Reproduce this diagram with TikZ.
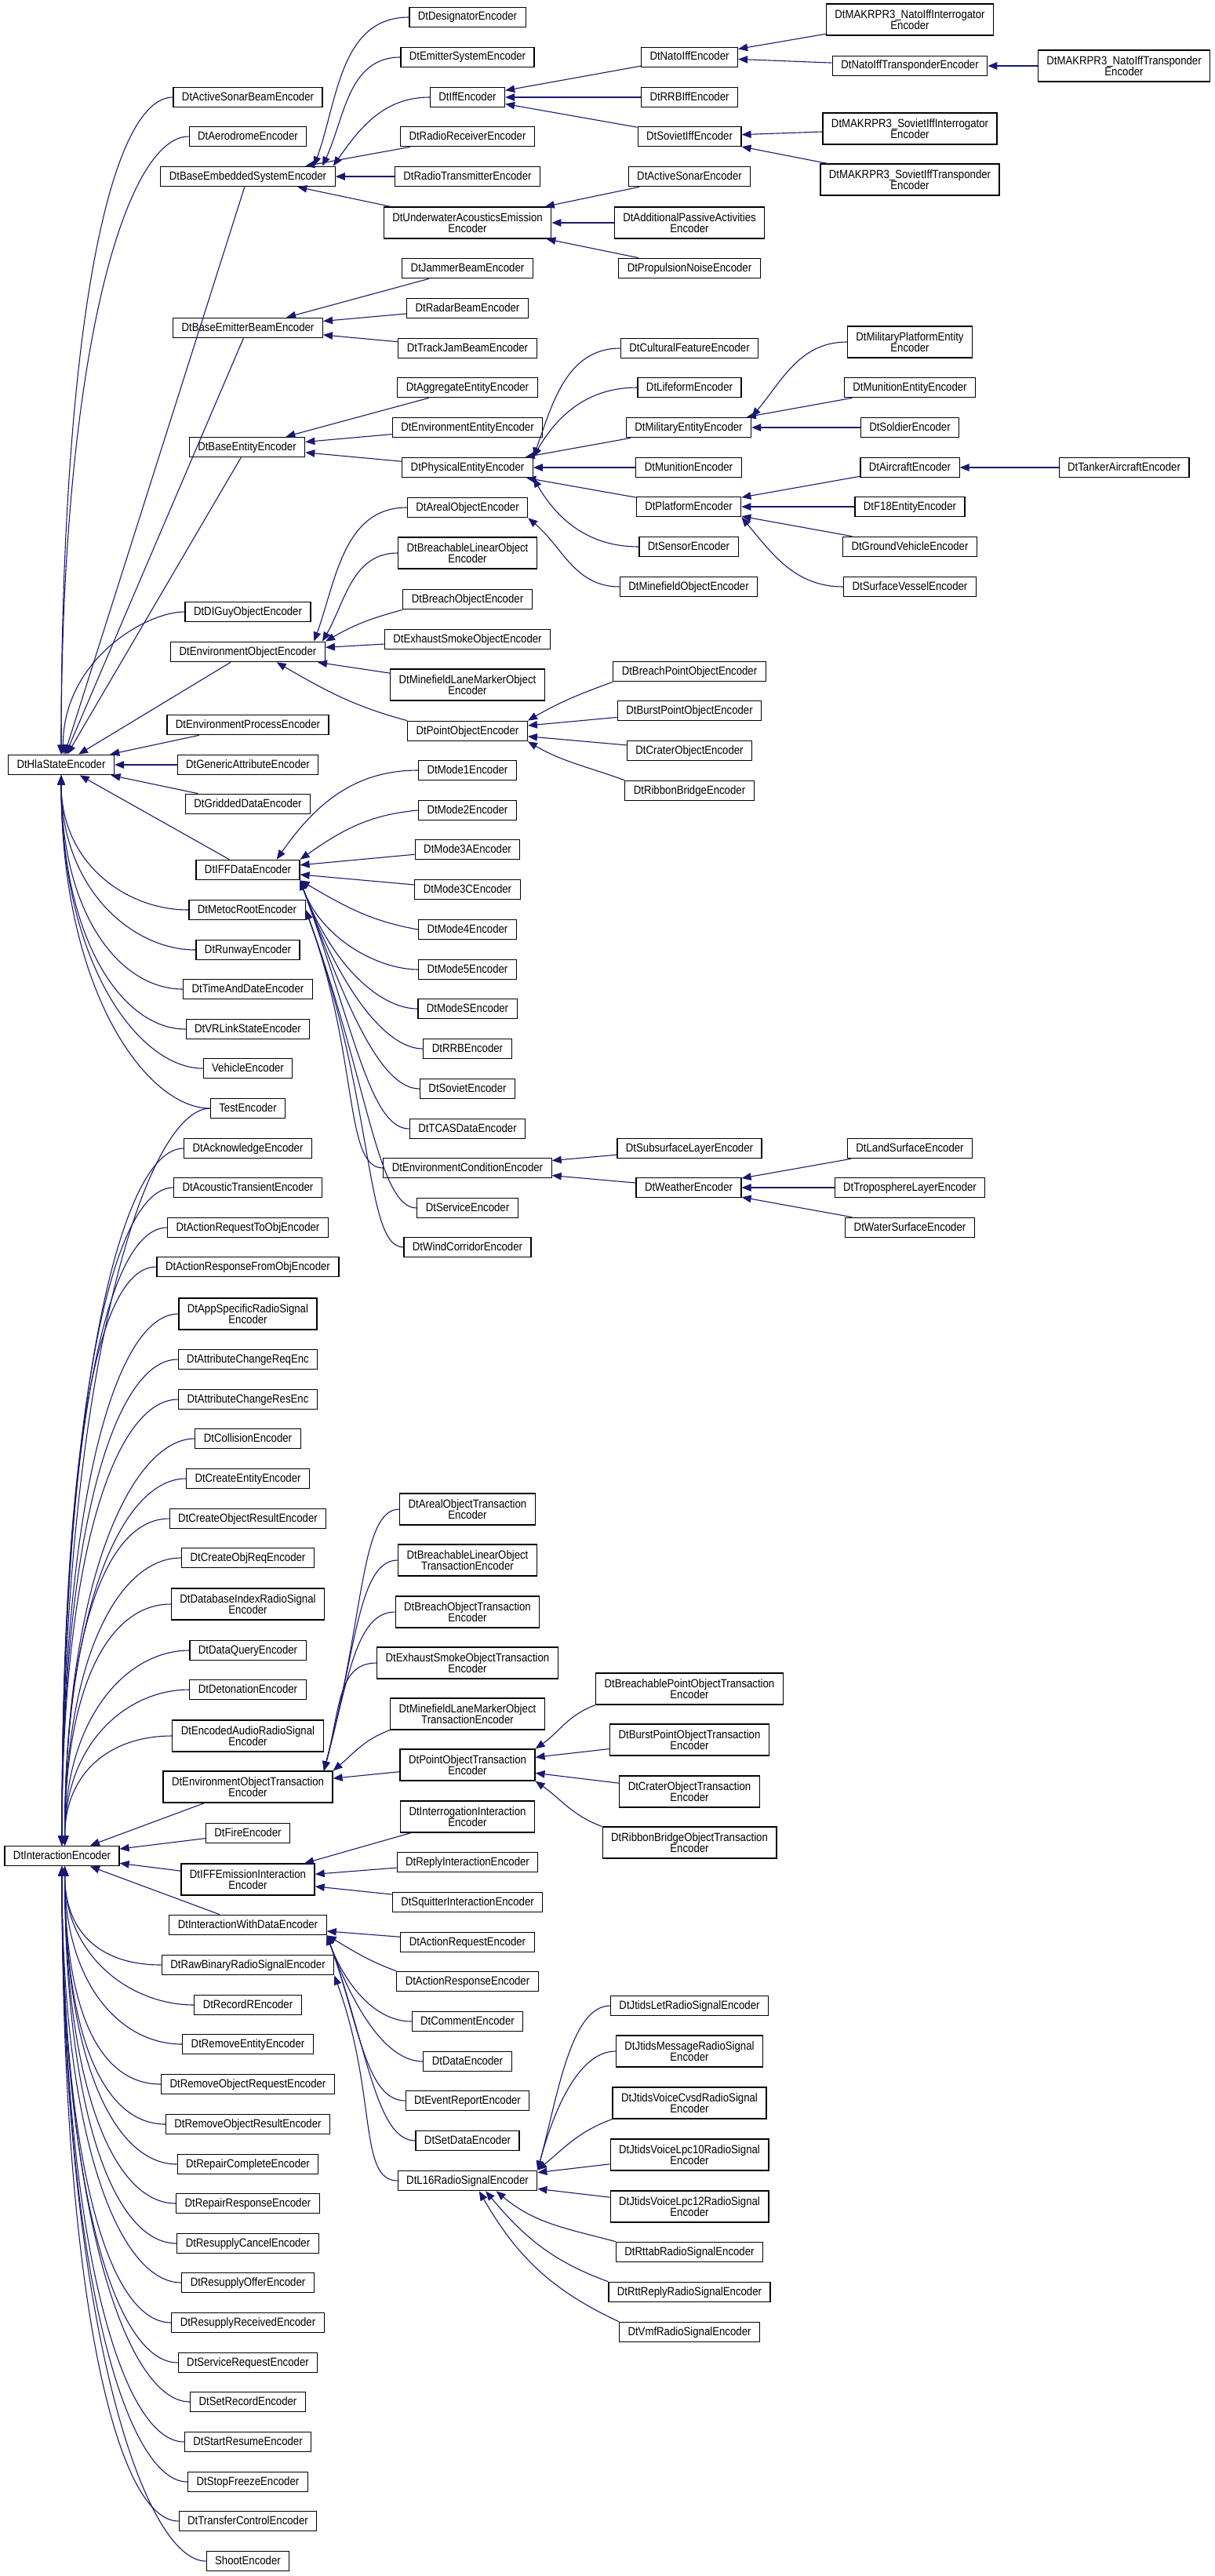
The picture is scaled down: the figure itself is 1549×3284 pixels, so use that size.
\documentclass[tikz,border=0pt]{standalone}
\usepackage{fontspec}
\setmainfont{Liberation Sans}[FakeStretch=0.88]
\usetikzlibrary{arrows.meta}
\definecolor{edgeblue}{RGB}{25,25,112}

\begin{document}
\begin{tikzpicture}[x=1pt,y=1pt,
  cls/.style={draw=black,line width=1.2pt,fill=white,inner xsep=11pt,inner ysep=0pt,
    minimum height=25.5pt,text height=11pt,text depth=3pt,font=\fontsize{15pt}{14.6pt}\selectfont},
  cls2/.style={draw=black,line width=1.2pt,fill=white,inner xsep=11pt,inner ysep=3pt,
    minimum height=40pt,align=center,font=\fontsize{15pt}{14.6pt}\selectfont},
  inh/.style={draw=edgeblue,line width=1.1pt,-{Triangle[length=12pt,width=9.5pt]}},
  fanup/.style={out=180,in=90,out distance=80pt,in distance=#1},
  fandn/.style={out=180,in=-90,out distance=80pt,in distance=#1},
  ufan/.style={out=180,in=75,out distance=50pt,in distance=#1},
  rfan/.style={out=180,in=-70,out distance=50pt,in distance=#1}]
\useasboundingbox (0,0) rectangle (1549,-3284);
% Two roots
\node[cls] (hla) at (78,-975) {DtHlaStateEncoder};
\node[cls] (inter) at (79,-2366) {DtInteractionEncoder};
% First level, state side
\node[cls] (asb) at (316,-124) {DtActiveSonarBeamEncoder};
\node[cls] (aer) at (316,-174) {DtAerodromeEncoder};
\node[cls] (bes) at (316,-225) {DtBaseEmbeddedSystemEncoder};
\node[cls] (bemb) at (316,-418) {DtBaseEmitterBeamEncoder};
\node[cls] (bent) at (315,-570) {DtBaseEntityEncoder};
\node[cls] (digo) at (316,-780) {DtDIGuyObjectEncoder};
\node[cls] (envo) at (316,-831) {DtEnvironmentObjectEncoder};
\node[cls] (envp) at (316,-924) {DtEnvironmentProcessEncoder};
\node[cls] (gena) at (316,-975) {DtGenericAttributeEncoder};
\node[cls] (grid) at (316,-1025) {DtGriddedDataEncoder};
\node[cls] (iffd) at (316,-1109) {DtIFFDataEncoder};
\node[cls] (meto) at (315,-1160) {DtMetocRootEncoder};
\node[cls] (runw) at (316,-1211) {DtRunwayEncoder};
\node[cls] (tad) at (316,-1261) {DtTimeAndDateEncoder};
\node[cls] (vrl) at (316,-1312) {DtVRLinkStateEncoder};
\node[cls] (veh) at (316,-1362) {VehicleEncoder};
\node[cls] (test) at (316,-1413) {TestEncoder};
% First level, interaction side
\node[cls] (ack) at (316,-1464) {DtAcknowledgeEncoder};
\node[cls] (act) at (316,-1514) {DtAcousticTransientEncoder};
\node[cls] (arto) at (316,-1565) {DtActionRequestToObjEncoder};
\node[cls] (arfo) at (316,-1615) {DtActionResponseFromObjEncoder};
\node[cls2] (apps) at (316,-1675) {DtAppSpecificRadioSignal\\Encoder};
\node[cls] (acrq) at (316,-1733) {DtAttributeChangeReqEnc};
\node[cls] (acrs) at (316,-1784) {DtAttributeChangeResEnc};
\node[cls] (coll) at (316,-1834) {DtCollisionEncoder};
\node[cls] (cent) at (316,-1885) {DtCreateEntityEncoder};
\node[cls] (cobr) at (316,-1936) {DtCreateObjectResultEncoder};
\node[cls] (cobq) at (316,-1986) {DtCreateObjReqEncoder};
\node[cls2] (dbix) at (316,-2045) {DtDatabaseIndexRadioSignal\\Encoder};
\node[cls] (dq) at (316,-2104) {DtDataQueryEncoder};
\node[cls] (det) at (316,-2154) {DtDetonationEncoder};
\node[cls2] (enca) at (316,-2213) {DtEncodedAudioRadioSignal\\Encoder};
\node[cls2] (eot) at (316,-2278) {DtEnvironmentObjectTransaction\\Encoder};
\node[cls] (fire) at (316,-2337) {DtFireEncoder};
\node[cls2] (iffe) at (316,-2396) {DtIFFEmissionInteraction\\Encoder};
\node[cls] (iwd) at (316,-2454) {DtInteractionWithDataEncoder};
\node[cls] (rawb) at (316,-2505) {DtRawBinaryRadioSignalEncoder};
\node[cls] (recr) at (316,-2556) {DtRecordREncoder};
\node[cls] (rment) at (316,-2606) {DtRemoveEntityEncoder};
\node[cls] (rmorq) at (316,-2657) {DtRemoveObjectRequestEncoder};
\node[cls] (rmors) at (316,-2708) {DtRemoveObjectResultEncoder};
\node[cls] (repc) at (316,-2759) {DtRepairCompleteEncoder};
\node[cls] (repr) at (316,-2809) {DtRepairResponseEncoder};
\node[cls] (resc) at (316,-2860) {DtResupplyCancelEncoder};
\node[cls] (reso) at (316,-2910) {DtResupplyOfferEncoder};
\node[cls] (resr) at (316,-2961) {DtResupplyReceivedEncoder};
\node[cls] (sreq) at (316,-3012) {DtServiceRequestEncoder};
\node[cls] (srec) at (316,-3062) {DtSetRecordEncoder};
\node[cls] (star) at (316,-3113) {DtStartResumeEncoder};
\node[cls] (stop) at (316,-3164) {DtStopFreezeEncoder};
\node[cls] (trc) at (316,-3214) {DtTransferControlEncoder};
\node[cls] (shoot) at (316,-3265) {ShootEncoder};
% Second level
\node[cls] (des) at (596,-22) {DtDesignatorEncoder};
\node[cls] (emit) at (596,-73) {DtEmitterSystemEncoder};
\node[cls] (iff) at (596,-124) {DtIffEncoder};
\node[cls] (rrcv) at (596,-174) {DtRadioReceiverEncoder};
\node[cls] (rtx) at (596,-225) {DtRadioTransmitterEncoder};
\node[cls2] (uae) at (596,-284) {DtUnderwaterAcousticsEmission\\Encoder};
\node[cls] (jam) at (596,-342) {DtJammerBeamEncoder};
\node[cls] (radar) at (596,-393) {DtRadarBeamEncoder};
\node[cls] (tjam) at (596,-444) {DtTrackJamBeamEncoder};
\node[cls] (aggr) at (596,-494) {DtAggregateEntityEncoder};
\node[cls] (enve) at (596,-545) {DtEnvironmentEntityEncoder};
\node[cls] (phys) at (596,-596) {DtPhysicalEntityEncoder};
\node[cls] (areal) at (596,-647) {DtArealObjectEncoder};
\node[cls2] (blin) at (596,-705) {DtBreachableLinearObject\\Encoder};
\node[cls] (brch) at (596,-764) {DtBreachObjectEncoder};
\node[cls] (exh) at (596,-815) {DtExhaustSmokeObjectEncoder};
\node[cls2] (mlm) at (596,-873) {DtMinefieldLaneMarkerObject\\Encoder};
\node[cls] (pobj) at (596,-932) {DtPointObjectEncoder};
\node[cls] (m1) at (596,-982) {DtMode1Encoder};
\node[cls] (m2) at (596,-1033) {DtMode2Encoder};
\node[cls] (m3a) at (596,-1083) {DtMode3AEncoder};
\node[cls] (m3c) at (596,-1134) {DtMode3CEncoder};
\node[cls] (m4) at (596,-1185) {DtMode4Encoder};
\node[cls] (m5) at (596,-1236) {DtMode5Encoder};
\node[cls] (ms) at (596,-1286) {DtModeSEncoder};
\node[cls] (rrb) at (596,-1337) {DtRRBEncoder};
\node[cls] (sov) at (596,-1388) {DtSovietEncoder};
\node[cls] (tcas) at (596,-1439) {DtTCASDataEncoder};
\node[cls] (envc) at (596,-1489) {DtEnvironmentConditionEncoder};
\node[cls] (serv) at (596,-1540) {DtServiceEncoder};
\node[cls] (wind) at (596,-1590) {DtWindCorridorEncoder};
\node[cls2] (aot) at (596,-1924) {DtArealObjectTransaction\\Encoder};
\node[cls2] (blot) at (596,-1989) {DtBreachableLinearObject\\TransactionEncoder};
\node[cls2] (bot) at (596,-2055) {DtBreachObjectTransaction\\Encoder};
\node[cls2] (esot) at (596,-2120) {DtExhaustSmokeObjectTransaction\\Encoder};
\node[cls2] (mlmt) at (596,-2185) {DtMinefieldLaneMarkerObject\\TransactionEncoder};
\node[cls2] (pot) at (596,-2250) {DtPointObjectTransaction\\Encoder};
\node[cls2] (intg) at (596,-2316) {DtInterrogationInteraction\\Encoder};
\node[cls] (rply) at (596,-2374) {DtReplyInteractionEncoder};
\node[cls] (squi) at (596,-2425) {DtSquitterInteractionEncoder};
\node[cls] (areq) at (596,-2476) {DtActionRequestEncoder};
\node[cls] (arsp) at (596,-2526) {DtActionResponseEncoder};
\node[cls] (comm) at (596,-2577) {DtCommentEncoder};
\node[cls] (data) at (596,-2628) {DtDataEncoder};
\node[cls] (evr) at (596,-2678) {DtEventReportEncoder};
\node[cls] (sdat) at (596,-2729) {DtSetDataEncoder};
\node[cls] (l16) at (596,-2780) {DtL16RadioSignalEncoder};
% Third level
\node[cls] (nato) at (879,-73) {DtNatoIffEncoder};
\node[cls] (rrbi) at (879,-124) {DtRRBIffEncoder};
\node[cls] (sovi) at (879,-174) {DtSovietIffEncoder};
\node[cls] (asn) at (879,-225) {DtActiveSonarEncoder};
\node[cls2] (apa) at (879,-284) {DtAdditionalPassiveActivities\\Encoder};
\node[cls] (prop) at (879,-342) {DtPropulsionNoiseEncoder};
\node[cls] (cult) at (879,-444) {DtCulturalFeatureEncoder};
\node[cls] (life) at (879,-494) {DtLifeformEncoder};
\node[cls] (mil) at (878,-545) {DtMilitaryEntityEncoder};
\node[cls] (mun) at (878,-596) {DtMunitionEncoder};
\node[cls] (plat) at (878,-646) {DtPlatformEncoder};
\node[cls] (sens) at (878,-697) {DtSensorEncoder};
\node[cls] (mine) at (878,-748) {DtMinefieldObjectEncoder};
\node[cls] (bpo) at (879,-856) {DtBreachPointObjectEncoder};
\node[cls] (bupo) at (879,-906) {DtBurstPointObjectEncoder};
\node[cls] (crat) at (879,-957) {DtCraterObjectEncoder};
\node[cls] (ribb) at (879,-1008) {DtRibbonBridgeEncoder};
\node[cls] (subs) at (879,-1464) {DtSubsurfaceLayerEncoder};
\node[cls] (weat) at (878,-1514) {DtWeatherEncoder};
\node[cls2] (bpot) at (879,-2153) {DtBreachablePointObjectTransaction\\Encoder};
\node[cls2] (bpt) at (879,-2218) {DtBurstPointObjectTransaction\\Encoder};
\node[cls2] (cot) at (879,-2284) {DtCraterObjectTransaction\\Encoder};
\node[cls2] (rbot) at (879,-2349) {DtRibbonBridgeObjectTransaction\\Encoder};
\node[cls] (jlet) at (879,-2557) {DtJtidsLetRadioSignalEncoder};
\node[cls2] (jmsg) at (879,-2615) {DtJtidsMessageRadioSignal\\Encoder};
\node[cls2] (jcvsd) at (879,-2681) {DtJtidsVoiceCvsdRadioSignal\\Encoder};
\node[cls2] (jl10) at (879,-2747) {DtJtidsVoiceLpc10RadioSignal\\Encoder};
\node[cls2] (jl12) at (879,-2813) {DtJtidsVoiceLpc12RadioSignal\\Encoder};
\node[cls] (rttab) at (879,-2871) {DtRttabRadioSignalEncoder};
\node[cls] (rttr) at (879,-2922) {DtRttReplyRadioSignalEncoder};
\node[cls] (vmf) at (879,-2973) {DtVmfRadioSignalEncoder};
% Fourth and fifth level
\node[cls2] (mkni) at (1160,-25) {DtMAKRPR3\_NatoIffInterrogator\\Encoder};
\node[cls] (ntx) at (1160,-84) {DtNatoIffTransponderEncoder};
\node[cls2] (mksi) at (1160,-164) {DtMAKRPR3\_SovietIffInterrogator\\Encoder};
\node[cls2] (mkst) at (1160,-229) {DtMAKRPR3\_SovietIffTransponder\\Encoder};
\node[cls2] (mplat) at (1160,-436) {DtMilitaryPlatformEntity\\Encoder};
\node[cls] (munent) at (1160,-494) {DtMunitionEntityEncoder};
\node[cls] (sold) at (1160,-545) {DtSoldierEncoder};
\node[cls] (airc) at (1160,-596) {DtAircraftEncoder};
\node[cls] (f18) at (1160,-646) {DtF18EntityEncoder};
\node[cls] (grnd) at (1160,-697) {DtGroundVehicleEncoder};
\node[cls] (surf) at (1160,-748) {DtSurfaceVesselEncoder};
\node[cls] (land) at (1160,-1464) {DtLandSurfaceEncoder};
\node[cls] (trop) at (1160,-1514) {DtTroposphereLayerEncoder};
\node[cls] (watr) at (1160,-1565) {DtWaterSurfaceEncoder};
\node[cls2] (mknt) at (1433,-84) {DtMAKRPR3\_NatoIffTransponder\\Encoder};
\node[cls] (tank) at (1433,-596) {DtTankerAircraftEncoder};

% Edges into DtHlaStateEncoder
\foreach \c/\d in {asb/545,aer/512}
  \draw[inh] (\c.west) to[fanup=\d pt] (hla.north);
\draw[inh] (digo.west) to[fanup=120pt,out distance=50pt] (hla.80);
\foreach \c in {bes,bemb,bent,envo,envp,gena,grid,iffd}
  \draw[inh] (\c) -- (hla);
\foreach \c/\d in {meto/112,runw/146,tad/178,vrl/211,veh/244,test/277}
  \draw[inh] (\c.west) to[fandn=\d pt] (hla.south);
% Edges into DtInteractionEncoder
\foreach \c/\d in {test/612,ack/579,act/546,arto/513,arfo/480,apps/441,acrq/404,acrs/371}
  \draw[inh] (\c.west) to[fanup=\d pt] (inter.north);
\foreach \c/\d in {coll/338,cent/305,cobr/272,cobq/239,dbix/201,dq/163,det/130,enca/92}
  \draw[inh] (\c.west) to[fanup=\d pt] (inter.75);
\foreach \c in {eot,fire,iffe,iwd}
  \draw[inh] (\c) -- (inter);
\foreach \c/\d in {rawb/82,recr/115,rment/148,rmorq/181,rmors/214,repc/247,repr/280,resc/313}
  \draw[inh] (\c.west) to[fandn=\d pt] (inter.-75);
\foreach \c/\d in {reso/345,resr/378,sreq/411,srec/444,star/477,stop/510,trc/543,shoot/576}
  \draw[inh] (\c.west) to[fandn=\d pt] (inter.south);

% Embedded systems
\draw[inh] (des.west) to[out=180,in=70] (bes.9);
\draw[inh] (emit.west) to[out=180,in=65] (bes.8);
\draw[inh] (iff.west) to[out=180,in=55] (bes.7);
\foreach \c in {rrcv,rtx,uae} \draw[inh] (\c) -- (bes);
\foreach \c in {nato,rrbi,sovi} \draw[inh] (\c) -- (iff);
\foreach \c in {mkni,ntx} \draw[inh] (\c) -- (nato);
\draw[inh] (mknt) -- (ntx);
\foreach \c in {mksi,mkst} \draw[inh] (\c) -- (sovi);
\foreach \c in {asn,apa,prop} \draw[inh] (\c) -- (uae);
\foreach \c in {jam,radar,tjam} \draw[inh] (\c) -- (bemb);
% Entities
\foreach \c in {aggr,enve,phys} \draw[inh] (\c) -- (bent);
\draw[inh] (cult.west) to[out=180,in=70] (phys.north east);
\draw[inh] (life.west) to[out=180,in=60] (phys.north east);
\foreach \c in {mil,mun,plat} \draw[inh] (\c) -- (phys);
\draw[inh] (sens.west) to[out=180,in=-60] (phys.south east);
\draw[inh] (mplat.west) to[out=180,in=50] (mil.north east);
\foreach \c in {munent,sold} \draw[inh] (\c) -- (mil);
\foreach \c in {airc,f18,grnd} \draw[inh] (\c) -- (plat);
\draw[inh] (surf.west) to[out=180,in=-50] (plat.south east);
\draw[inh] (tank) -- (airc);
% Environment objects
\draw[inh] (areal.west) to[out=180,in=70] (envo.9);
\draw[inh] (blin.west) to[out=180,in=60] (envo.8);
\draw[inh] (brch.south west) to[out=195,in=30] (envo.north east);
\foreach \c in {exh,mlm} \draw[inh] (\c) -- (envo);
\draw[inh] (pobj.north west) to[out=165,in=-30] (envo.-20);
\draw[inh] (mine.west) to[out=180,in=-40] (areal.south east);
\draw[inh] (bpo.south west) to[out=200,in=30] (pobj.north east);
\foreach \c in {bupo,crat} \draw[inh] (\c) -- (pobj);
\draw[inh] (ribb.north west) to[out=160,in=-30] (pobj.south east);
% IFF data and metoc
\draw[inh] (m1.west) to[out=180,in=55] (iffd.20);
\draw[inh] (m2.west) to[out=185,in=35] (iffd.north east);
\foreach \c in {m3a,m3c} \draw[inh] (\c) -- (iffd);
\draw[inh] (m4.west) to[out=170,in=-30] (iffd.south east);
\foreach \c/\d in {m5/80,ms/110,rrb/140,sov/170,tcas/200}
  \draw[inh] (\c.west) to[rfan=\d pt] (iffd.south east);
\foreach \c/\d in {envc/200,serv/230,wind/260}
  \draw[inh] (\c.west) to[rfan=\d pt] (meto.east);
\foreach \c in {subs,weat} \draw[inh] (\c) -- (envc);
\foreach \c in {land,trop,watr} \draw[inh] (\c) -- (weat);
% Object transactions
\foreach \c/\d in {aot/200,blot/160,bot/120,esot/80}
  \draw[inh] (\c.west) to[ufan=\d pt] (eot.12);
\draw[inh] (mlmt.south west) to[out=200,in=40] (eot.north east);
\draw[inh] (pot) -- (eot);
\draw[inh] (bpot.south west) to[out=200,in=35] (pot.north east);
\foreach \c in {bpt,cot} \draw[inh] (\c) -- (pot);
\draw[inh] (rbot.north west) to[out=160,in=-35] (pot.south east);
% Interactions with data and radio signals
\foreach \c in {intg,rply,squi} \draw[inh] (\c) -- (iffe);
\draw[inh] (areq) -- (iwd);
\draw[inh] (arsp.north west) to[out=160,in=-30] (iwd.south east);
\foreach \c/\d in {comm/60,data/90,evr/120,sdat/150}
  \draw[inh] (\c.west) to[rfan=\d pt] (iwd.south east);
\draw[inh] (l16.west) to[rfan=160pt] (rawb.south east);
\draw[inh] (jlet.west) to[ufan=100pt] (l16.north east);
\draw[inh] (jmsg.west) to[ufan=70pt] (l16.north east);
\draw[inh] (jcvsd.south west) to[out=200,in=40] (l16.north east);
\foreach \c in {jl10,jl12} \draw[inh] (\c) -- (l16);
\draw[inh] (rttab.north west) to[out=165,in=-40] (l16.-20);
\draw[inh] (rttr.north west) to[out=160,in=-50] (l16.-30);
\draw[inh] (vmf.north west) to[out=155,in=-60] (l16.-42);
\end{tikzpicture}
\end{document}
